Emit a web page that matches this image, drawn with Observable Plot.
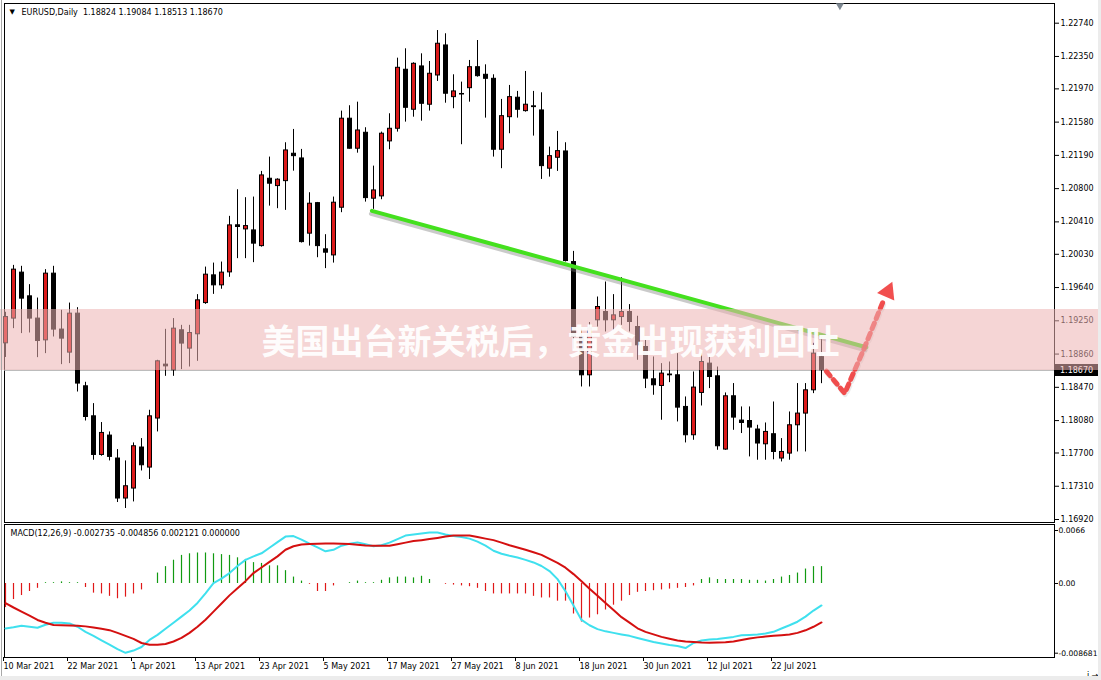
<!DOCTYPE html>
<html><head><meta charset="utf-8">
<script src="https://cdn.jsdelivr.net/npm/d3@7"></script>
<script src="https://cdn.jsdelivr.net/npm/@observablehq/plot@0.6"></script>
<style>
html,body{margin:0;padding:0;background:#fff;}
#wrap{position:relative;width:1101px;height:680px;overflow:hidden;background:#fff;}
#main,#macd{position:absolute;left:0;}
#main{top:0}
#macd{top:523px}
#banner{position:absolute;left:0;top:309px;width:1101px;height:61px;background:rgba(236,178,178,0.55);}
#bannerText{position:absolute;left:0;top:309px;width:1101px;height:61px;line-height:61px;text-align:center;color:rgba(255,255,255,0.96);font-weight:bold;font-size:34px;font-family:"Noto Sans CJK SC",sans-serif;letter-spacing:0px;}
#edgeR{position:absolute;right:0;top:0;width:3px;height:680px;background:#ececec;}
#edgeB{position:absolute;left:0;bottom:0;width:1101px;height:4px;background:#ececec;}
#edgeL{position:absolute;left:1px;top:0;width:1px;height:676px;background:#a8a8a8;}
</style></head>
<body><div id="wrap"><div id="main"></div><div id="macd"></div><div id="banner"></div><div id="bannerText">美国出台新关税后，黄金出现获利回吐</div><div id="edgeR"></div><div id="edgeB"></div><div id="edgeL"></div></div>
<script>
// ---------- data ----------
const symbolLabel = "EURUSD,Daily";
const dateTickIndex = [0, 8, 16, 24, 32, 40, 48, 56, 64, 72, 80, 88, 96];
const dateTickLabels = ["10 Mar 2021","22 Mar 2021","1 Apr 2021","13 Apr 2021","23 Apr 2021","5 May 2021","17 May 2021","27 May 2021","8 Jun 2021","18 Jun 2021","30 Jun 2021","12 Jul 2021","22 Jul 2021"];
const priceTicks = [1.2274,1.2235,1.2197,1.2158,1.2119,1.2080,1.2041,1.2003,1.1964,1.1925,1.1886,1.1847,1.1808,1.1770,1.1731,1.1692];
const bidPrice = 1.18670;

const open = [1.18986,1.19276,1.19815,1.19537,1.19276,1.19021,1.19803,1.19147,1.18877,1.19334,
1.18482,1.18130,1.17677,1.17904,1.17635,1.17166,1.17283,1.17764,1.17529,1.18104,
1.18736,1.18670,1.19139,1.18924,1.19092,1.19458,1.19783,1.19666,1.19818,1.20370,
1.20322,1.20310,1.20126,1.20916,1.20830,1.20888,1.21209,1.21154,1.20272,1.20630,
1.20088,1.20017,1.20576,1.21620,1.21268,1.21455,1.20682,1.20709,1.21354,1.21502,
1.22194,1.21725,1.22233,1.21784,1.22127,1.22479,1.21873,1.21910,1.21978,1.22224,
1.22135,1.22088,1.21256,1.21638,1.21866,1.21709,1.21765,1.21717,1.21034,1.21162,
1.21236,1.19939,1.19060,1.18611,1.19256,1.19353,1.19256,1.19294,1.19353,1.19177,
1.18943,1.18564,1.18486,1.18620,1.18611,1.18240,1.17908,1.18404,1.18748,1.18599,
1.17740,1.18365,1.18080,1.18075,1.17975,1.17802,1.17920,1.17635,1.17693,1.18025,
1.18162,1.18435,1.18824];
const high = [1.19350,1.19900,1.19889,1.19674,1.19517,1.19850,1.19889,1.19373,1.19458,1.19404,
1.18529,1.18279,1.18057,1.17947,1.17740,1.17607,1.17818,1.17869,1.18201,1.18787,
1.19150,1.19276,1.19197,1.19197,1.19557,1.19880,1.19927,1.19939,1.20475,1.20787,
1.20694,1.20701,1.21002,1.21170,1.20916,1.21338,1.21494,1.21260,1.20752,1.20638,
1.20260,1.20701,1.21709,1.21772,1.21814,1.21514,1.21064,1.21463,1.21678,1.22330,
1.22440,1.22276,1.22381,1.22291,1.22654,1.22616,1.22135,1.22049,1.22303,1.22537,
1.22252,1.22135,1.21846,1.22010,1.21940,1.22174,1.21940,1.21924,1.21287,1.21471,
1.21338,1.20064,1.19150,1.19230,1.19529,1.19705,1.19557,1.19756,1.19440,1.19303,
1.19021,1.18826,1.18748,1.18767,1.18865,1.18357,1.18650,1.18865,1.18826,1.18708,
1.18404,1.18514,1.18240,1.18240,1.18025,1.18052,1.18298,1.17869,1.18181,1.18514,
1.18514,1.18986,1.19084];
const low = [1.18820,1.19158,1.19100,1.19107,1.18818,1.18865,1.19060,1.18736,1.18748,1.18415,
1.18075,1.17615,1.17662,1.17607,1.17119,1.17049,1.17126,1.17489,1.17389,1.17947,
1.18599,1.18599,1.18678,1.18708,1.18775,1.19443,1.19560,1.19620,1.19760,1.19979,
1.19979,1.19932,1.20114,1.20595,1.20565,1.20545,1.21005,1.20162,1.20126,1.19990,
1.19862,1.19927,1.20518,1.21263,1.21216,1.20642,1.20557,1.20670,1.21256,1.21463,
1.21580,1.21638,1.21591,1.21709,1.22057,1.21802,1.21737,1.21315,1.21814,1.22107,
1.21627,1.21170,1.21034,1.21444,1.21627,1.21697,1.21416,1.20908,1.20935,1.21002,
1.19940,1.18918,1.18474,1.18474,1.19177,1.19119,1.19139,1.19197,1.19119,1.18787,
1.18455,1.18377,1.18084,1.18525,1.18064,1.17818,1.17849,1.18251,1.18455,1.17732,
1.17732,1.17966,1.17928,1.17654,1.17615,1.17615,1.17620,1.17595,1.17615,1.17712,
1.17712,1.18396,1.18513];
const close = [1.19294,1.19850,1.19510,1.19276,1.19013,1.19803,1.19147,1.19041,1.19334,1.18514,
1.18122,1.17677,1.17935,1.17654,1.17166,1.17310,1.17779,1.17556,1.18130,1.18775,
1.18716,1.19158,1.18983,1.19107,1.19490,1.19791,1.19666,1.19815,1.20369,1.20350,
1.20361,1.20155,1.20955,1.20858,1.20905,1.21248,1.21181,1.20173,1.20623,1.20126,
1.20049,1.20635,1.21620,1.21268,1.21482,1.20689,1.20779,1.21444,1.21502,1.22217,
1.21748,1.22264,1.21795,1.22147,1.22499,1.21913,1.21940,1.21904,1.22224,1.22119,
1.22088,1.21256,1.21650,1.21873,1.21725,1.21784,1.21756,1.21064,1.21181,1.21240,
1.19951,1.19060,1.18611,1.19160,1.19412,1.19256,1.19314,1.19353,1.19236,1.18963,
1.18572,1.18494,1.18631,1.18611,1.18232,1.17908,1.18467,1.18767,1.18591,1.17779,
1.18365,1.18115,1.18052,1.17998,1.17811,1.17947,1.17712,1.17712,1.18025,1.18162,
1.18435,1.18865,1.18670];

const macdDif = [-0.0056,-0.00545,-0.00526,-0.00539,-0.00551,-0.00514,-0.00488,-0.00488,-0.00497,-0.00539,
-0.00602,-0.00652,-0.00707,-0.0076,-0.00817,-0.00863,-0.00835,-0.00791,-0.00703,-0.0064,
-0.00564,-0.00488,-0.00413,-0.00337,-0.00242,-0.00122,0.00004,0.00061,0.0013,0.00218,
0.00294,0.00338,0.00376,0.00445,0.00515,0.00584,0.00591,0.00546,0.00496,0.00449,
0.00401,0.0042,0.00471,0.00496,0.00512,0.0049,0.00464,0.00477,0.00509,0.00553,
0.00597,0.0061,0.00622,0.00635,0.00635,0.0061,0.00591,0.00578,0.00559,0.00521,
0.00471,0.00408,0.0037,0.00345,0.00323,0.00294,0.00262,0.00218,0.00155,0.00054,
-0.00097,-0.00274,-0.00454,-0.0052,-0.00568,-0.00596,-0.00615,-0.00634,-0.00652,-0.00678,
-0.00703,-0.00728,-0.00747,-0.00766,-0.00779,-0.00804,-0.00741,-0.00709,-0.00697,-0.0069,
-0.00678,-0.00665,-0.00644,-0.0064,-0.00634,-0.00623,-0.00602,-0.0056,-0.0052,-0.00476,
-0.00413,-0.00337,-0.002735];
const macdDea = [-0.00245,-0.00299,-0.0035,-0.004,-0.00454,-0.00488,-0.00517,-0.0052,-0.00522,-0.00526,
-0.00534,-0.00549,-0.00564,-0.00581,-0.00615,-0.00652,-0.0069,-0.00741,-0.00762,-0.00762,
-0.00753,-0.00722,-0.00678,-0.00615,-0.00539,-0.00451,-0.0035,-0.00249,-0.00148,-0.00059,
0.00029,0.0013,0.00199,0.00269,0.00338,0.0042,0.00464,0.00486,0.00493,0.00496,
0.00498,0.00498,0.00496,0.00492,0.00483,0.00473,0.00471,0.00471,0.00471,0.0049,
0.00509,0.00528,0.0054,0.00553,0.00568,0.00584,0.00597,0.00597,0.00597,0.00578,
0.00559,0.0054,0.00509,0.00477,0.00449,0.0042,0.00389,0.00357,0.00307,0.00256,
0.00197,0.00117,0.00029,-0.00066,-0.00154,-0.00242,-0.00331,-0.00419,-0.00488,-0.00558,
-0.00602,-0.00634,-0.00665,-0.00688,-0.00709,-0.00722,-0.00728,-0.00734,-0.00737,-0.00734,
-0.00731,-0.00722,-0.00703,-0.00684,-0.00671,-0.00661,-0.00652,-0.00644,-0.00634,-0.00615,
-0.00583,-0.00539,-0.004856];
const macdHist = [-0.0030,-0.0020,-0.0015,-0.0010,-0.0006,0.0001,0.0001,0.0002,0.0001,0.0001,
-0.0005,-0.0012,-0.0013,-0.0016,-0.0019,-0.0017,-0.0013,-0.0008,0.0000,0.0013,
0.0021,0.0029,0.0035,0.0037,0.0038,0.0038,0.0037,0.0036,0.0035,0.0032,
0.0030,0.0026,0.0025,0.0022,0.0022,0.0016,0.0008,0.0003,-0.0001,-0.0010,
-0.0010,-0.0003,0.0000,0.0001,0.0003,0.0001,0.0001,0.0004,0.0007,0.0008,
0.0008,0.0007,0.0009,0.0005,0.0000,-0.0001,-0.0002,-0.0003,-0.0004,-0.0006,
-0.0010,-0.0013,-0.0013,-0.0013,-0.0013,-0.0013,-0.0016,-0.0018,-0.0018,-0.0022,
-0.0022,-0.0038,-0.0048,-0.0043,-0.0039,-0.0033,-0.0027,-0.0022,-0.0015,-0.0011,
-0.0010,-0.0009,-0.0008,-0.0007,-0.0006,-0.0005,-0.0003,0.0005,0.0007,0.0005,
0.0005,0.0005,0.0005,0.0004,0.0004,0.0003,0.0005,0.0008,0.0010,0.0013,
0.0018,0.0021,0.0021];
const macdHeaderValues = [-0.002735, -0.004856, 0.002121, 0.000000];
const macdTicks = [0.0066, 0, -0.008681];
const macdTickLabels = ["0.0066", "0.00", "-0.008681"];

const trendX = [45.8, 107.6];
const trendY = [1.2054, 1.1894];
const arrowX = [102.6, 104.9, 107.3, 109.8];
const arrowY = [1.1866, 1.1840, 1.1892, 1.1950];
const arrowHead = {x: 110.3, y: 1.1959};
const shiftMarkerX = 104.3;

// ---------- build ----------
const candles = open.map((o, i) => ({i, o, h: high[i], l: low[i], c: close[i]}));
const macdData = macdDif.map((v, i) => ({i, dif: v, dea: macdDea[i], h: macdHist[i]}));
const trend = trendX.map((x, k) => ({x, y: trendY[k]}));
const arrowPts = arrowX.map((x, k) => ({x, y: arrowY[k]}));

const UP = "#dc1a1a";
const FONT = "DejaVu Sans";
const xScale = {type: "linear", domain: [0, 102], range: [5, 821]};
const f5 = d3.format(".5f");

const main = Plot.plot({
  width: 1101, height: 523,
  marginTop: 3, marginLeft: 4, marginRight: 47, marginBottom: 1,
  x: {...xScale, axis: null},
  y: {domain: [1.1692, 1.2274], range: [519, 22.7], axis: null},
  style: {fontFamily: FONT, fontSize: "8px", color: "#000", background: "transparent", overflow: "visible"},
  marks: [
    Plot.frame({stroke: "#000"}),
    Plot.ruleY([bidPrice], {stroke: "#a8a8a8"}),
    Plot.ruleX(candles, {x: "i", y1: "l", y2: "h", stroke: "#000"}),
    Plot.rect(candles.filter(d => d.c >= d.o), {x1: d => d.i - 0.1875, x2: d => d.i + 0.3125, y1: "o", y2: "c", fill: UP, stroke: "#000"}),
    Plot.rect(candles.filter(d => d.c < d.o), {x1: d => d.i - 0.1875, x2: d => d.i + 0.3125, y1: "o", y2: "c", fill: "#000", stroke: "#000"}),
    Plot.line(trend, {x: "x", y: "y", stroke: "#7a7a7a", strokeWidth: 4, strokeOpacity: 0.4, dx: -1, dy: 3}),
    Plot.line(trend, {x: "x", y: "y", stroke: "#44e01e", strokeWidth: 4}),
    Plot.line(arrowPts, {x: "x", y: "y", stroke: "#b0b0b0", strokeWidth: 5, strokeOpacity: 0.25, strokeDasharray: "6,5", dx: 1, dy: 2}),
    Plot.line(arrowPts, {x: "x", y: "y", stroke: "#f03c3c", strokeWidth: 5, strokeDasharray: "6,5", strokeOpacity: 0.9}),
    Plot.dot([arrowHead], {x: "x", y: "y", symbol: "triangle", r: 7, rotate: 24, fill: "#f03c3c", fillOpacity: 0.9}),
    Plot.dot([shiftMarkerX], {x: d => d, frameAnchor: "top", symbol: "triangle", r: 3, rotate: 180, fill: "#7d8791", dy: 2}),
    Plot.axisY({anchor: "right", ticks: priceTicks, tickFormat: f5, tickSize: 4, tickPadding: 2, stroke: "#000"}),
    Plot.text(["▼"], {frameAnchor: "top-left", dx: 5, dy: 6, fontSize: 7, fill: "#000"}),
    Plot.text([`${symbolLabel}  ${f5(open[102])} ${f5(high[102])} ${f5(low[102])} ${f5(close[102])}`],
      {frameAnchor: "top-left", dx: 17, dy: 6, textAnchor: "start", fontSize: 8, fill: "#000"}),
    (index, scales, values, dims) => {
      const g = d3.create("svg:g");
      const y = Math.round(scales.y(bidPrice));
      const x0 = dims.width - dims.marginRight + 1;
      g.append("rect").attr("x", x0).attr("y", y - 6).attr("width", 43).attr("height", 12).attr("fill", "#000");
      g.append("text").attr("x", x0 + 5).attr("y", y).attr("dy", "0.32em").attr("fill", "#fff")
        .attr("text-anchor", "start").attr("font-family", FONT).attr("font-size", 8).text(f5(bidPrice));
      return g.node();
    }
  ]
});
document.getElementById("main").appendChild(main);

const macd = Plot.plot({
  width: 1101, height: 157,
  marginTop: 1, marginLeft: 4, marginRight: 47, marginBottom: 23,
  x: {...xScale, axis: null},
  y: {domain: [-0.008681, 0.0066], range: [129.7, 7], axis: null},
  style: {fontFamily: FONT, fontSize: "8px", color: "#000", background: "transparent", overflow: "visible"},
  marks: [
    Plot.frame({stroke: "#000"}),
    Plot.ruleX(macdData.filter(d => d.h >= 0), {x: "i", y1: 0, y2: "h", stroke: "#119a11", strokeWidth: 1.2}),
    Plot.ruleX(macdData.filter(d => d.h < 0), {x: "i", y1: 0, y2: "h", stroke: "#e01818", strokeWidth: 1.2}),
    Plot.line(macdData, {x: "i", y: "dif", stroke: "#3fe0ee", strokeWidth: 2}),
    Plot.line(macdData, {x: "i", y: "dea", stroke: "#d41010", strokeWidth: 2}),
    Plot.axisY({anchor: "right", ticks: macdTicks, tickFormat: d => macdTickLabels[macdTicks.indexOf(d)], tickSize: 3, tickPadding: 1, fontSize: 7.6}),
    Plot.axisX({anchor: "bottom", ticks: dateTickIndex, tickFormat: d => dateTickLabels[dateTickIndex.indexOf(d)], tickSize: 4, tickPadding: 2, textAnchor: "start", dx: -2}),
    Plot.text([`MACD(12,26,9) ${macdHeaderValues.map(v => v.toFixed(6)).join(" ")}`],
      {frameAnchor: "top-left", dx: 6, dy: 6, textAnchor: "start", fontSize: 8, fill: "#000"})
  ]
});
document.getElementById("macd").appendChild(macd);
</script></body></html>
